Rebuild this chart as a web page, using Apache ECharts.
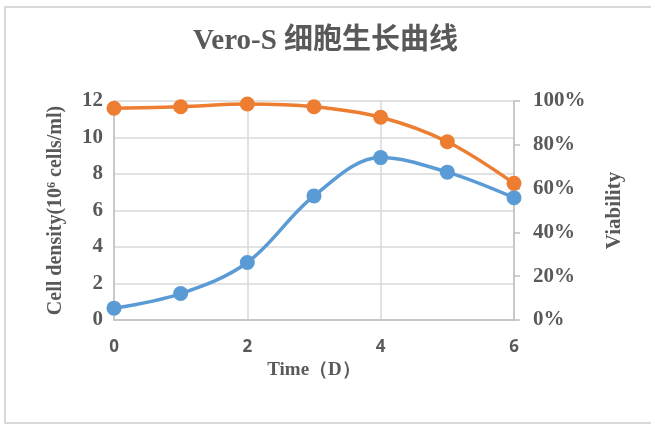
<!DOCTYPE html>
<html>
<head>
<meta charset="utf-8">
<script src="https://cdn.jsdelivr.net/npm/echarts@6/dist/echarts.min.js"></script>
<style>
  html, body { margin: 0; padding: 0; background: #fff; }
  #chart { width: 651px; height: 425px; }
</style>
</head>
<body>
<div id="chart"></div>
<script>
// data
var days = [0, 1, 2, 3, 4, 5, 6];
var density = [0.65, 1.45, 3.15, 6.8, 8.9, 8.1, 6.7];        // 10^6 cells/ml
var viability = [0.967, 0.974, 0.986, 0.974, 0.926, 0.814, 0.624];

var chart = echarts.init(document.getElementById('chart'));

var serif = '"Liberation Serif", "Times New Roman", serif';
var gray = '#595959';

function pairs(ys) {
    return days.map(function (d, i) { return [d, ys[i]]; });
}

option = {
    animation: false,
    title: {
        text: 'Vero-S 细胞生长曲线',
        left: 'center',
        top: 22,
        textStyle: {
            fontFamily: serif + ', "Noto Sans CJK SC"',
            fontSize: 29,
            fontWeight: 'bold',
            color: gray
        }
    },
    graphic: [{
        type: 'rect',
        shape: { x: 5, y: 7, width: 700, height: 416 },
        style: { fill: 'none', stroke: '#d9d9d9', lineWidth: 2 },
        silent: true
    }],
    grid: { left: 114, right: 137, top: 101, bottom: 105 },
    xAxis: {
        type: 'value',
        min: 0, max: 6, interval: 2,
        name: 'Time（D）',
        nameLocation: 'middle',
        nameGap: 36,
        nameTextStyle: { fontFamily: serif, fontSize: 19, fontWeight: 'bold', color: gray },
        axisLine: { show: true, lineStyle: { color: '#bfbfbf', width: 1.5 } },
        axisTick: { show: false },
        axisLabel: { fontFamily: '"Noto Sans", sans-serif', fontSize: 17, fontWeight: 'bold', color: gray, margin: 19 },
        splitLine: { show: true, lineStyle: { color: '#d9d9d9', width: 1.5 } }
    },
    yAxis: [{
        type: 'value',
        min: 0, max: 12, interval: 2,
        name: 'Cell density(10{sup|6} cells/ml)',
        nameLocation: 'middle',
        nameGap: 48,
        nameTextStyle: {
            fontFamily: serif, fontSize: 20, fontWeight: 'bold', color: gray,
            rich: { sup: { fontFamily: serif, fontSize: 12, fontWeight: 'bold', color: gray, verticalAlign: 'top', padding: [0, 0, 8, 0] } }
        },
        axisLine: { show: true, lineStyle: { color: '#bfbfbf', width: 1.5 } },
        axisTick: { show: false },
        axisLabel: { fontFamily: serif, fontSize: 21, fontWeight: 'bold', color: gray, margin: 11, padding: [6, 0, 0, 0] },
        splitLine: { show: true, lineStyle: { color: '#d9d9d9', width: 1.5 } }
    }, {
        type: 'value',
        min: 0, max: 1, interval: 0.2,
        name: 'Viability',
        nameLocation: 'middle',
        nameGap: 90,
        nameRotate: 90,
        nameTextStyle: { fontFamily: serif, fontSize: 21, fontWeight: 'bold', color: gray },
        axisLine: { show: true, lineStyle: { color: '#bfbfbf', width: 1.5 } },
        axisTick: { show: true, length: 6, lineStyle: { color: '#bfbfbf', width: 1.5 } },
        axisLabel: {
            fontFamily: serif, fontSize: 21, fontWeight: 'bold', color: gray, margin: 19, padding: [6, 0, 0, 0],
            formatter: function (v) { return Math.round(v * 100) + '%'; }
        },
        splitLine: { show: false }
    }],
    series: [{
        name: 'Cell density',
        type: 'line',
        yAxisIndex: 0,
        data: pairs(density),
        smooth: 0.35,
        symbol: 'circle',
        symbolSize: 15,
        itemStyle: { color: '#5B9BD5' },
        lineStyle: { color: '#5B9BD5', width: 3.5 }
    }, {
        name: 'Viability',
        type: 'line',
        yAxisIndex: 1,
        data: pairs(viability),
        smooth: 0.35,
        symbol: 'circle',
        symbolSize: 15,
        itemStyle: { color: '#ED7D31' },
        lineStyle: { color: '#ED7D31', width: 3.5 }
    }]
};

chart.setOption(option);
</script>
</body>
</html>
